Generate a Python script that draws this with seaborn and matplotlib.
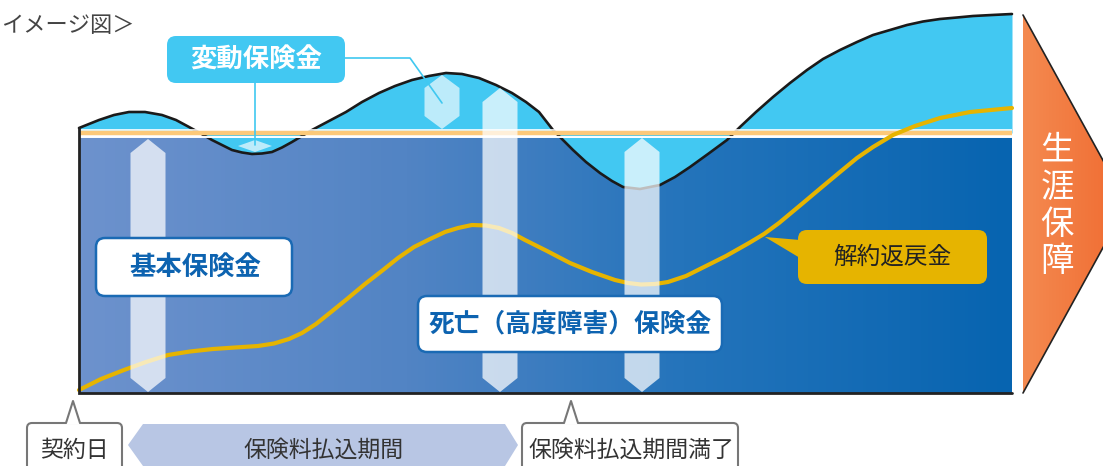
import numpy as np
import pandas as pd
import seaborn as sns
import matplotlib.pyplot as plt
from matplotlib.colors import LinearSegmentedColormap
from matplotlib.patches import Polygon, FancyBboxPatch

# 変動保険金の曲線（画像のピクセル座標で読み取り）
var_x = [79, 89, 99, 114, 129, 145, 162, 176, 189, 200, 212, 222, 232, 242, 252, 262,
         272, 282, 292, 302, 312, 329, 346, 362, 379, 395, 412, 429, 446, 462, 479, 496,
         512, 526, 539, 553, 563, 573, 586, 600, 612, 623, 640, 660, 675, 690, 708, 727,
         740, 756, 773, 790, 807, 823, 840, 857, 873, 890, 907, 923, 940, 957, 973, 992, 1012]
var_y = [128, 124, 120, 115, 112, 112, 115, 120, 127, 133, 140, 145, 150, 152.5, 154, 153.5,
         152, 147.5, 142, 136, 130, 121, 112, 102, 93, 86, 80, 76, 73, 74, 78, 85,
         93, 102, 112, 130, 140, 150, 162, 173, 181, 187, 189, 185, 177, 167, 154, 140,
         127, 112, 97, 83, 70, 59, 50, 42, 35, 30, 25, 21.5, 19, 17.5, 16, 15, 14]

# 解約返戻金の曲線
sv_x = [79, 101, 124, 146, 168, 190, 213, 235, 258, 274, 289, 302, 316, 331, 347, 365,
        383, 398, 414, 430, 445, 458, 472, 486, 499, 512, 525, 547, 570, 592, 615, 628,
        641, 655, 668, 686, 704, 726, 749, 764, 779, 803, 822, 840, 857, 873, 893, 915,
        940, 970, 1012]
sv_y = [390, 379, 370, 362, 355, 351.5, 349, 347.5, 346, 343.5, 339, 333, 324, 312, 299, 284,
        270, 258, 247, 239, 232, 228, 225, 225.5, 228, 233, 240, 251, 263, 272, 280, 283,
        284.5, 284, 282, 276, 267, 256, 243, 234, 223, 203, 187, 172, 158, 147, 135, 126,
        118, 112, 108]

# 保険金の白い帯（中心x, 上端y）
bar_centers = [148, 500, 642]
bar_tops = [139, 88, 138]
bar_bottom = 392

base_line_y = 133

sns.set_theme(style="white")
plt.rcParams['font.family'] = ['Noto Sans CJK JP', 'DejaVu Sans']

fig = plt.figure(figsize=(11.03, 4.66), dpi=100)
ax = fig.add_axes([0, 0, 1, 1])
ax.set_xlim(0, 1103)
ax.set_ylim(466, 0)
ax.axis('off')

# 基本保険金のグラデーション
box_cmap = LinearSegmentedColormap.from_list(
    'box', [(0, '#6d92cd'), (0.35, '#5284c4'), (0.65, '#2474bb'), (1, '#0764b0')])
grad = np.linspace(0, 1, 256).reshape(1, -1)
ax.imshow(grad, cmap=box_cmap, extent=(79, 1012, 393, 137), aspect='auto', zorder=1)

# 変動保険金の塗り
ax.fill_between(var_x, var_y, base_line_y, color='#42c8f2', lw=0, zorder=2)
df_var = pd.DataFrame({'x': var_x, 'y': var_y})
sns.lineplot(data=df_var, x='x', y='y', color='#1a1a1a', lw=1.9, ax=ax, zorder=3,
             sort=False)

# 基本保険金の上端ライン
ax.plot([79, 1012], [130, 130], color='white', lw=1.2, zorder=4, solid_capstyle='butt')
ax.plot([79, 1012], [133.3, 133.3], color='#fcc97a', lw=3.2, zorder=4, solid_capstyle='butt')
ax.plot([79, 1012], [136.5, 136.5], color='white', lw=1.4, zorder=4, solid_capstyle='butt')

# 解約返戻金
df_sv = pd.DataFrame({'x': sv_x, 'y': sv_y})
sns.lineplot(data=df_sv, x='x', y='y', color='#e6b400', lw=3.0, ax=ax, zorder=5,
             sort=False)

# 枠線
ax.plot([79, 79, 1012], [128, 393, 393], color='#222222', lw=2.0, zorder=6,
        solid_joinstyle='miter')


def hexbar(cx, top, bottom, w=35, tip=14):
    h = w / 2
    return [(cx, top), (cx + h, top + tip), (cx + h, bottom - tip), (cx, bottom),
            (cx - h, bottom - tip), (cx - h, top + tip)]


for cx, top in zip(bar_centers, bar_tops):
    ax.add_patch(Polygon(hexbar(cx, top, bar_bottom), closed=True, fc='white',
                         alpha=0.72, lw=0, zorder=7))
ax.add_patch(Polygon(hexbar(442, 75, 129, tip=13), closed=True, fc='white',
                     alpha=0.65, lw=0, zorder=7))
ax.add_patch(Polygon([(238, 146), (255, 140), (272, 146), (255, 152)], closed=True,
                     fc='white', alpha=0.65, lw=0, zorder=7))

# 変動保険金ラベル
ax.plot([255, 255], [83, 145], color='#40c8f0', lw=1.2, zorder=8)
ax.plot([345, 410, 442], [58, 58, 103], color='#40c8f0', lw=1.2, zorder=8)
ax.add_patch(FancyBboxPatch((167, 36), 178, 47, boxstyle='round,pad=0,rounding_size=9',
                            fc='#42c8f2', ec='none', zorder=9))
ax.text(256, 60, '変動保険金', color='white', fontsize=19, fontweight='bold',
        ha='center', va='center', zorder=10)

# 基本保険金ラベル
ax.add_patch(FancyBboxPatch((96, 238), 196, 58, boxstyle='round,pad=0,rounding_size=9',
                            fc='white', ec='#1a6ab4', lw=1.8, zorder=9))
ax.text(195, 267, '基本保険金', color='#0d63b0', fontsize=19, fontweight='bold',
        ha='center', va='center', zorder=10)

# 死亡(高度障害)保険金ラベル
ax.add_patch(FancyBboxPatch((418, 296), 304, 56, boxstyle='round,pad=0,rounding_size=9',
                            fc='white', ec='#1a6ab4', lw=1.8, zorder=9))
ax.text(570, 324, '死亡（高度障害）保険金', color='#0d63b0', fontsize=18.5,
        fontweight='bold', ha='center', va='center', zorder=10)

# 解約返戻金ラベル
ax.add_patch(Polygon([(800, 240), (800, 258), (765, 237)], closed=True, fc='#e6b400',
                     lw=0, zorder=9))
ax.add_patch(FancyBboxPatch((798, 230), 189, 54, boxstyle='round,pad=0,rounding_size=9',
                            fc='#e6b400', ec='none', zorder=9))
ax.text(892, 257, '解約返戻金', color='#222222', fontsize=17, ha='center',
        va='center', zorder=10)

# 生涯保障の矢印
arrow_pts = [(1023, 15), (1127, 204), (1023, 393)]
arrow = Polygon(arrow_pts, closed=True, fc='none', ec='none', zorder=3)
ax.add_patch(arrow)
arrow_cmap = LinearSegmentedColormap.from_list('arr', ['#f48a50', '#f06a30'])
im = ax.imshow(grad, cmap=arrow_cmap, extent=(1023, 1127, 393, 15), aspect='auto', zorder=3)
im.set_clip_path(arrow)
ax.plot([1023, 1127, 1023], [15, 204, 393], color='#222222', lw=1.2, zorder=4)
ax.text(1057, 206, '生\n涯\n保\n障', color='white', fontsize=24, ha='center',
        va='center', linespacing=1.08, zorder=10)


# 下部のラベル
def callout(x0, x1, tip_x, text, text_x):
    ax.add_patch(FancyBboxPatch((x0, 423), x1 - x0, 60, boxstyle='round,pad=0,rounding_size=5',
                                fc='white', ec='#777777', lw=1.5, zorder=9))
    ax.add_patch(Polygon([(tip_x - 7, 424.5), (tip_x, 401), (tip_x + 7, 424.5)], closed=True,
                         fc='white', lw=0, zorder=10))
    ax.plot([tip_x - 7, tip_x, tip_x + 7], [423, 401, 423], color='#777777', lw=1.5,
            zorder=10)
    ax.text(text_x, 450, text, color='#333333', fontsize=16.5, ha='center', va='center',
            zorder=11)


callout(27, 122, 73, '契約日', 74)
callout(522, 738, 571, '保険料払込期間満了', 631)

ax.add_patch(Polygon([(143, 424), (505, 424), (518, 445), (505, 466), (143, 466), (128, 445)],
                     closed=True, fc='#b8c6e4', lw=0, zorder=8))
ax.text(324, 450, '保険料払込期間', color='#333333', fontsize=16.5, ha='center',
        va='center', zorder=9)

ax.text(1, 26, 'イメージ図＞', color='#444444', fontsize=16, ha='left', va='center')

ax.set_xlim(0, 1103)
ax.set_ylim(466, 0)
fig.savefig('out.png', dpi=100)
